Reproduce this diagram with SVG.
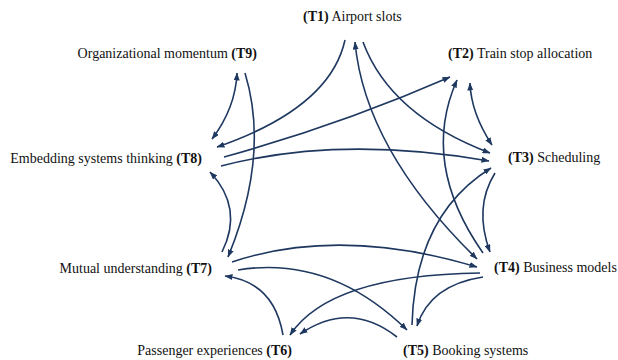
<svg xmlns="http://www.w3.org/2000/svg" width="618" height="360" viewBox="0 0 618 360">
<style>
.lbl{font-family:"Liberation Serif","Times New Roman",serif;font-size:14px;fill:#111}
.b{font-weight:bold}
.e{fill:none;stroke:#1E3860;stroke-width:1.6}
</style>
<defs>
<marker id="ah" viewBox="0 0 8 6" refX="7.5" refY="3" markerWidth="8" markerHeight="6" markerUnits="userSpaceOnUse" orient="auto-start-reverse">
<path d="M0,0 L8,3 L0,6 z" fill="#1E3860"/>
</marker>
</defs>
<rect width="618" height="360" fill="#fff"/>
<g id="connectors">
<path class="e" d="M345,40 Q330,108 217,147" marker-end="url(#ah)"/>
<path class="e" d="M363,42 Q390,115 490,153" marker-end="url(#ah)"/>
<path class="e" d="M355,42 Q365,150 477,259" marker-start="url(#ah)" marker-end="url(#ah)"/>
<path class="e" d="M237,73 Q235.5,108 212,139" marker-start="url(#ah)" marker-end="url(#ah)"/>
<path class="e" d="M245,73 Q270,155 228,257" marker-end="url(#ah)"/>
<path class="e" d="M224,157 Q340,125 450,77" marker-end="url(#ah)"/>
<path class="e" d="M221,166 Q340,135 489,161" marker-end="url(#ah)"/>
<path class="e" d="M470,83 Q471,113 492,145" marker-start="url(#ah)" marker-end="url(#ah)"/>
<path class="e" d="M495,173 Q473.5,207.5 490,252" marker-end="url(#ah)"/>
<path class="e" d="M483,253 Q420,163 457,80" marker-end="url(#ah)"/>
<path class="e" d="M412,325 Q415,215 491,168" marker-end="url(#ah)"/>
<path class="e" d="M222,252 Q244,208 210,172" marker-end="url(#ah)"/>
<path class="e" d="M232,262 Q340,226 477,267" marker-end="url(#ah)"/>
<path class="e" d="M238,270 Q330,255 407,330" marker-end="url(#ah)"/>
<path class="e" d="M283,335 Q274,282 225,276" marker-end="url(#ah)"/>
<path class="e" d="M480,273 Q330,275 290,335" marker-end="url(#ah)"/>
<path class="e" d="M397,337 Q350,300 300,334" marker-end="url(#ah)"/>
<path class="e" d="M483,277 Q430,285 417,326" marker-end="url(#ah)"/>
</g>
<g id="T1"><text class="lbl" x="303" y="21"><tspan class="b">(T1)</tspan> Airport slots</text></g>
<g id="T2"><text class="lbl" x="448" y="58"><tspan class="b">(T2)</tspan> Train stop allocation</text></g>
<g id="T3"><text class="lbl" x="508" y="162"><tspan class="b">(T3)</tspan> Scheduling</text></g>
<g id="T4"><text class="lbl" x="494" y="272"><tspan class="b">(T4)</tspan> Business models</text></g>
<g id="T5"><text class="lbl" x="403" y="355"><tspan class="b">(T5)</tspan> Booking systems</text></g>
<g id="T6"><text class="lbl" x="292" y="355" text-anchor="end">Passenger experiences <tspan class="b">(T6)</tspan></text></g>
<g id="T7"><text class="lbl" x="212" y="273" text-anchor="end">Mutual understanding <tspan class="b">(T7)</tspan></text></g>
<g id="T8"><text class="lbl" x="202" y="163" text-anchor="end">Embedding systems thinking <tspan class="b">(T8)</tspan></text></g>
<g id="T9"><text class="lbl" x="257" y="58" text-anchor="end">Organizational momentum <tspan class="b">(T9)</tspan></text></g>
</svg>
